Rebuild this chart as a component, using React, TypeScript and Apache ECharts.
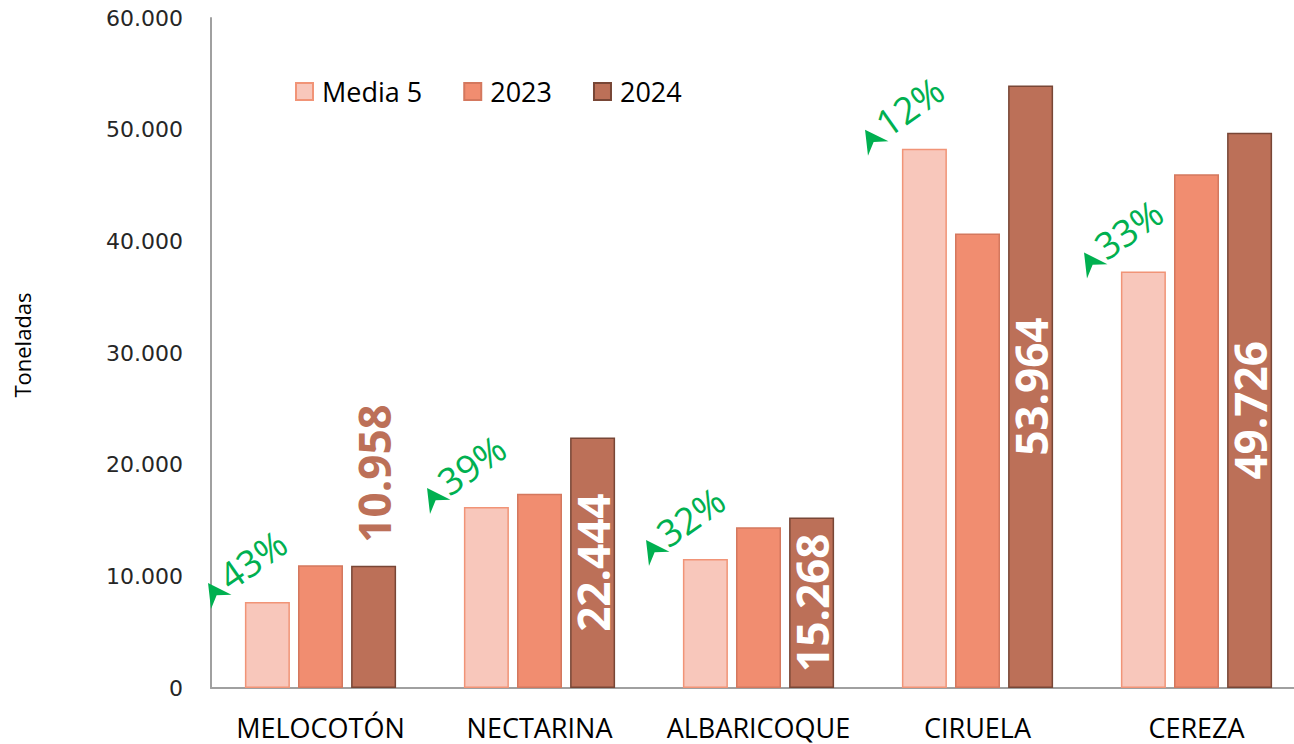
import React, { useEffect, useRef } from "react";
import * as echarts from "echarts";

const categories = ["MELOCOTÓN", "NECTARINA", "ALBARICOQUE", "CIRUELA", "CEREZA"];
const media5 = [7700, 16200, 11550, 48300, 37300];
const y2023 = [11000, 17400, 14400, 40700, 46000];
const y2024 = [10958, 22444, 15268, 53964, 49726];
const changePct = [43, 39, 32, 12, 33];
const seriesNames = ["Media 5", "2023", "2024"];

const fmt = (v: number) => String(Math.round(v)).replace(/\B(?=(\d{3})+(?!\d))/g, ".");

const GREEN = "#00B050";
const SANS = '"Open Sans", sans-serif';

export default function App() {
  const ref = useRef<HTMLDivElement>(null);
  useEffect(() => {
    if (!ref.current) return;
    const chart = echarts.init(ref.current, undefined, { renderer: "svg" });
    const option: any = {
      animation: false,
      backgroundColor: "#ffffff",
      grid: { left: 211, right: 0, top: 18, bottom: 56, containLabel: false },
      legend: {
        data: seriesNames,
        left: 295,
        top: 78,
        padding: 0,
        icon: "rect",
        itemWidth: 17,
        itemHeight: 17,
        itemGap: 41,
        textStyle: { fontFamily: SANS, fontSize: 27, color: "#000", padding: [0, 0, 0, 4] },
      },
      xAxis: {
        type: "category",
        data: categories,
        axisLine: { show: true, lineStyle: { color: "#A0A0A0", width: 2 } },
        axisTick: { show: false },
        axisLabel: {
          fontFamily: SANS,
          fontSize: 27,
          lineHeight: 30,
          color: "#000",
          margin: 24,
          interval: 0,
        },
      },
      yAxis: {
        type: "value",
        min: 0,
        max: 60000,
        interval: 10000,
        name: "Toneladas",
        nameLocation: "middle",
        nameGap: 178,
        nameTextStyle: { fontFamily: SANS, fontSize: 22, color: "#000", padding: [0, 0, 0, 16] },
        axisLine: { show: true, lineStyle: { color: "#A0A0A0", width: 2 } },
        axisTick: { show: false },
        splitLine: { show: false },
        axisLabel: {
          fontFamily: '"DejaVu Sans", sans-serif',
          fontSize: 22,
          color: "#262626",
          margin: 28,
          formatter: (v: number) => fmt(v),
        },
      },
      series: [
        {
          name: seriesNames[0],
          type: "bar",
          data: media5,
          barWidth: 45,
          barGap: "18%",
          itemStyle: { color: "#F8C7BB", borderColor: "#F19477", borderWidth: 1.5 },
        },
        {
          name: seriesNames[1],
          type: "bar",
          data: y2023,
          barWidth: 45,
          barGap: "18%",
          itemStyle: { color: "#F18D70", borderColor: "#D4785E", borderWidth: 1.5 },
        },
        {
          name: seriesNames[2],
          type: "bar",
          barWidth: 45,
          barGap: "18%",
          itemStyle: { color: "#BC7058", borderColor: "#784636", borderWidth: 1.5 },
          label: {
            show: true,
            position: "inside",
            rotate: 90,
            fontFamily: SANS,
            fontWeight: "bold",
            fontSize: 44,
            color: "#ffffff",
            formatter: (p: any) => fmt(p.value),
          },
          data: y2024.map((v) =>
            v < 12000
              ? {
                  value: v,
                  label: {
                    position: "top",
                    align: "left",
                    verticalAlign: "middle",
                    distance: 23,
                    color: "#BC7058",
                  },
                }
              : v
          ),
        },
        {
          type: "custom",
          silent: true,
          z: 10,
          encode: { x: 0, y: 1 },
          data: categories.map((c, i) => [i, media5[i], changePct[i]]),
          renderItem: (params: any, api: any) => {
            const pt = api.coord([api.value(0), api.value(1)]);
            const band = api.size([1, 0])[0];
            return {
              type: "group",
              x: pt[0] - band / 2,
              y: pt[1] + 7,
              rotation: (35 * Math.PI) / 180,
              children: [
                {
                  type: "polygon",
                  shape: { points: [[0, 0], [12.5, -23], [25, 0], [12.5, -8]] },
                  style: { fill: GREEN },
                },
                {
                  type: "text",
                  x: 26,
                  y: -17,
                  style: {
                    text: api.value(2) + "%",
                    fill: GREEN,
                    fontFamily: SANS,
                    fontWeight: "normal",
                    fontSize: 37,
                    align: "left",
                    verticalAlign: "middle",
                  },
                },
              ],
            };
          },
        },
      ],
    };
    chart.setOption(option);
    return () => chart.dispose();
  }, []);
  return (
    <div
      style={{ position: "absolute", left: 0, top: 0, width: 1294, height: 744, overflow: "hidden" }}
    >
      <div ref={ref} style={{ width: 1306, height: 744 }} />
    </div>
  );
}
